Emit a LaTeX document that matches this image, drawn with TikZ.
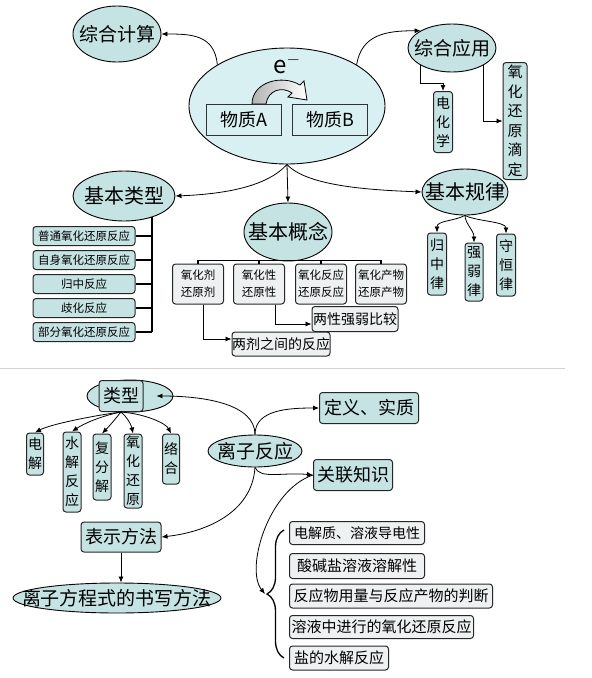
\documentclass[tikz,border=0pt]{standalone}
\usepackage{fontspec}
\setmainfont{Noto Sans CJK SC}
\usetikzlibrary{shapes.geometric,arrows.meta,decorations.pathreplacing}
\definecolor{tealfill}{RGB}{197,227,226}
\definecolor{corefill}{RGB}{216,240,241}
\definecolor{palefill}{RGB}{237,241,241}
\definecolor{rulegray}{RGB}{210,210,210}
\tikzset{
  bubble/.style={ellipse, draw, line width=.9pt, fill=tealfill, inner sep=0pt},
  card/.style={rectangle, rounded corners=3pt, draw=black!85, line width=1pt, fill=tealfill, inner sep=0pt},
  pale/.style={card, fill=palefill},
  vcard/.style={card, align=center, font=\fontsize{14}{19}\selectfont},
  every label/.style={font=\fontsize{19}{21}\selectfont, inner sep=0pt},
}
\begin{document}
\begin{tikzpicture}[x=1pt, y=-1pt, >={Latex[length=6pt,width=5pt]}, line width=.8pt]
  \useasboundingbox (0,0) rectangle (592,678);
  % oxidation-reduction part
  \node[ellipse, draw, line width=.9pt, fill=corefill, minimum width=196, minimum height=116] (core) at (287,106) {};
  \node[draw=black!80, line width=1.6pt, fill=corefill, minimum width=75, minimum height=31, inner sep=0pt, font=\fontsize{18}{18}\selectfont] (subA) at (244,120) {物质A};
  \node[draw=black!80, line width=1.6pt, fill=corefill, minimum width=75, minimum height=31, inner sep=0pt, font=\fontsize{18}{18}\selectfont] (subB) at (330,120) {物质B};
  \node[font=\fontsize{24}{24}\selectfont] (eminus) at (287,64) {e$^-$};
  \shade[left color=gray!60, right color=white, draw, line width=.8pt] (252,104) .. controls (252,82) and (282,74) .. (300,85) -- (304,81) -- (307,100) -- (288,97) -- (292,93) .. controls (282,86) and (268,90) .. (266,104) -- cycle;

  \node[bubble, minimum width=88, minimum height=56, label=center:综合计算] (calc) at (117,34) {};
  \node[bubble, minimum width=88, minimum height=48, label=center:综合应用] (apply) at (452,48) {};
  \node[vcard, minimum width=19, minimum height=61] (echem) at (443,122) {电\\化\\学};
  \node[vcard, minimum width=24, minimum height=117, font=\fontsize{15}{19.5}\selectfont] (titr) at (515,121) {氧\\化\\还\\原\\滴\\定};
  \draw[->] (core.north west) .. controls +(-3,-30) and +(30,0) .. (calc.east);
  \draw[->] (core.north east) .. controls +(5,-30) and +(-35,0) .. (apply.north west);
  \draw[->] (apply.south west) -- ++(0,18) -| (echem.north);
  \draw[->] (apply.south east) |- (titr.west);

  \node[bubble, minimum width=102, minimum height=50, label={[font=\fontsize{20}{20}\selectfont]center:基本类型}] (types) at (124,196) {};
  \node[bubble, minimum width=88, minimum height=58, label={[font=\fontsize{20}{20}\selectfont]center:基本概念}] (concept) at (288,232) {};
  \node[bubble, minimum width=86, minimum height=46, label={[font=\fontsize{20}{20}\selectfont]center:基本规律}] (laws) at (465,192) {};
  \draw[->] (core.south) .. controls +(-20,22) and +(50,-2) .. (types.east);
  \draw[->] (core.south) -- (concept.north);
  \draw[->] (core.south) .. controls +(20,22) and +(-50,-2) .. (laws.west);

  \foreach \t [count=\i] in {普通氧化还原反应,自身氧化还原反应,归中反应,歧化反应,部分氧化还原反应}
    \node[card, minimum width=102, minimum height=19, font=\fontsize{11.5}{12}\selectfont] (typ\i) at (84,212+24*\i) {\t};
  \coordinate (spine) at (152,217);
  \draw[line width=1.5pt] (spine) -- (spine |- typ5.east);
  \foreach \i in {1,...,5}
    \draw[line width=1.5pt] (typ\i.east) -- (typ\i.east -| spine);

  \node[pale, minimum width=51, minimum height=40, align=center, font=\fontsize{11.5}{17}\selectfont] (ox1) at (198,284) {氧化剂\\还原剂};
  \node[pale, minimum width=51, minimum height=40, align=center, font=\fontsize{11.5}{17}\selectfont] (ox2) at (259,284) {氧化性\\还原性};
  \node[pale, minimum width=51, minimum height=40, align=center, font=\fontsize{11.5}{17}\selectfont] (ox3) at (321,284) {氧化反应\\还原反应};
  \node[pale, minimum width=51, minimum height=40, align=center, font=\fontsize{11.5}{17}\selectfont] (ox4) at (381,284) {氧化产物\\还原产物};
  \draw[line width=1.5pt] (ox1.north) -- ++(0,-3) -| (ox4.north);
  \draw[line width=1.5pt] (ox2.north) -- ++(0,-3) (ox3.north) -- ++(0,-3);
  \node[pale, minimum width=86, minimum height=25, font=\fontsize{14}{14}\selectfont] (compare) at (355,319) {两性强弱比较};
  \node[pale, minimum width=98, minimum height=24, font=\fontsize{14}{14}\selectfont] (pair) at (281,344) {两剂之间的反应};
  \draw[->] ([xshift=5pt]ox1.south) |- ([yshift=5pt]pair.west);
  \draw[->] ([xshift=16pt]ox2.south) |- ([yshift=-5pt]compare.west);

  \node[vcard, minimum width=19, minimum height=62] (law1) at (437,264) {归\\中\\律};
  \node[vcard, minimum width=18, minimum height=58] (law2) at (474,272) {强\\弱\\律};
  \node[vcard, minimum width=19, minimum height=62] (law3) at (506,265) {守\\恒\\律};
  \draw[->] (laws.south) .. controls +(-12,6) and +(0,-12) .. (law1.north);
  \draw[->] (laws.south) .. controls +(0,8) and +(0,-12) .. (law2.north);
  \draw[->] (laws.south) .. controls +(12,6) and +(0,-12) .. (law3.north);

  \draw[rulegray, line width=1pt] (0,368) -- (565,368);

  % ionic reaction part
  \node[bubble, minimum width=86, minimum height=32] (kindoval) at (130,396) {};
  \node[card, minimum width=44, minimum height=31, font=\fontsize{18}{18}\selectfont] (kind) at (121,396) {类型};
  \node[vcard, minimum width=17, minimum height=42] (sort1) at (35,454) {电\\解};
  \node[vcard, minimum width=18, minimum height=80] (sort2) at (72,472) {水\\解\\反\\应};
  \node[vcard, minimum width=18, minimum height=66] (sort3) at (102,467) {复\\分\\解};
  \node[vcard, minimum width=18, minimum height=74] (sort4) at (133,471) {氧\\化\\还\\原};
  \node[vcard, minimum width=17, minimum height=50] (sort5) at (171,459) {络\\合};
  \draw[->] (kind.south) .. controls +(-30,4) and +(15,-8) .. (sort1.north);
  \draw[->] (kind.south) .. controls +(-20,4) and +(12,-8) .. (sort2.north);
  \draw[->] (kind.south) .. controls +(-5,6) and +(8,-8) .. (sort3.north);
  \draw[->] (kind.south) .. controls +(5,4) and +(-2,-10) .. (sort4.north);
  \draw[->] (kind.south) .. controls +(25,2) and +(-5,-10) .. (sort5.north);

  \node[bubble, minimum width=94, minimum height=32, label=center:离子反应] (ion) at (255,451) {};
  \node[card, minimum width=99, minimum height=31, font=\fontsize{18}{18}\selectfont] (define) at (369,408) {定义、实质};
  \node[card, minimum width=79, minimum height=31, font=\fontsize{18}{18}\selectfont] (link) at (353,475) {关联知识};
  \node[card, minimum width=80, minimum height=30, font=\fontsize{18}{18}\selectfont] (show) at (121,537) {表示方法};
  \node[bubble, minimum width=208, minimum height=30, label=center:离子方程式的书写方法] (method) at (117,598) {};
  \draw[->] (ion.north) .. controls +(0,-30) and +(50,0) .. ([xshift=-17pt]kindoval.east);
  \draw[->] (ion.north) .. controls +(0,-25) and +(-30,0) .. (define.west);
  \draw[->] (ion.south) .. controls +(5,12) and +(-30,-3) .. (link.west);
  \draw[->] (ion.south) .. controls +(-3,45) and +(45,-5) .. (show.east);
  \draw[->] (show.south) -- (show.south |- method.north);

  \draw[decorate, decoration={brace, amplitude=17pt}, line width=1.3pt] (284,658) -- (284,530);
  \coordinate (bracetip) at (265,594);
  \draw[->] (link.west) .. controls +(-45,15) and +(-20,-25) .. (bracetip);
  \node[pale, anchor=west, minimum width=135, minimum height=23, font=\fontsize{14}{14}\selectfont] (fact1) at (289,533) {电解质、溶液导电性};
  \node[pale, anchor=west, minimum width=135, minimum height=25, font=\fontsize{15}{15}\selectfont] (fact2) at (289,566) {酸碱盐溶液溶解性};
  \node[pale, anchor=west, minimum width=203, minimum height=24, font=\fontsize{15}{15}\selectfont] (fact3) at (289,596) {反应物用量与反应产物的判断};
  \node[pale, anchor=west, minimum width=184, minimum height=23, font=\fontsize{15}{15}\selectfont] (fact4) at (289,627) {溶液中进行的氧化还原反应};
  \node[pale, anchor=west, minimum width=99, minimum height=24, font=\fontsize{15}{15}\selectfont] (fact5) at (289,658) {盐的水解反应};
\end{tikzpicture}
\end{document}
